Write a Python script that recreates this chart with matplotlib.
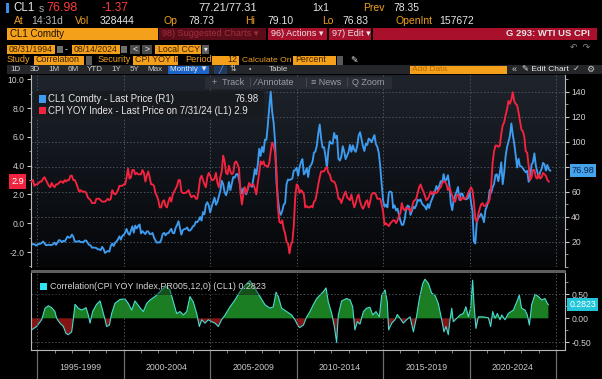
import numpy as np
import matplotlib
matplotlib.use("Agg")
import matplotlib.pyplot as plt
from matplotlib.patches import Rectangle
from matplotlib.colors import LinearSegmentedColormap
from matplotlib.ticker import MultipleLocator, FixedLocator, NullFormatter, FormatStrFormatter, FixedFormatter
import matplotlib.transforms as mtransforms

plt.rcParams['font.family'] = ['Liberation Sans', 'DejaVu Sans']

# ---------------- data ----------------
start_year, start_month = 1994, 8   # first monthly observation: Aug 1994

cpi_yoy = [
    2.9, 3.0, 2.6, 2.7, 2.7,                                        # 1994 Aug-Dec
    2.8, 2.9, 2.9, 3.1, 3.2, 3.0, 2.8, 2.6, 2.5, 2.8, 2.6, 2.5,    # 1995
    2.7, 2.7, 2.8, 2.9, 2.9, 2.8, 3.0, 2.9, 3.0, 3.0, 3.3, 3.3,    # 1996
    3.0, 3.0, 2.8, 2.5, 2.2, 2.3, 2.2, 2.2, 2.2, 2.1, 1.8, 1.7,    # 1997
    1.6, 1.4, 1.4, 1.4, 1.7, 1.7, 1.7, 1.6, 1.5, 1.5, 1.5, 1.6,    # 1998
    1.7, 1.6, 1.7, 2.3, 2.1, 2.0, 2.1, 2.3, 2.6, 2.6, 2.6, 2.7,    # 1999
    2.7, 3.2, 3.8, 3.1, 3.2, 3.7, 3.7, 3.4, 3.5, 3.4, 3.4, 3.4,    # 2000
    3.7, 3.5, 2.9, 3.3, 3.6, 3.2, 2.7, 2.7, 2.6, 2.1, 1.9, 1.6,    # 2001
    1.1, 1.1, 1.5, 1.6, 1.2, 1.1, 1.5, 1.8, 1.5, 2.0, 2.2, 2.4,    # 2002
    2.6, 3.0, 3.0, 2.2, 2.1, 2.1, 2.1, 2.2, 2.3, 2.0, 1.8, 1.9,    # 2003
    1.9, 1.7, 1.7, 2.3, 3.1, 3.3, 3.0, 2.7, 2.5, 3.2, 3.5, 3.3,    # 2004
    3.0, 3.0, 3.1, 3.5, 2.8, 2.5, 3.2, 3.6, 4.7, 4.3, 3.5, 3.4,    # 2005
    4.0, 3.6, 3.4, 3.5, 4.2, 4.3, 4.1, 3.8, 2.1, 1.3, 2.0, 2.5,    # 2006
    2.1, 2.4, 2.8, 2.6, 2.7, 2.7, 2.4, 2.0, 2.8, 3.5, 4.3, 4.1,    # 2007
    4.3, 4.0, 4.0, 3.9, 4.2, 5.0, 5.6, 5.4, 4.9, 3.7, 1.1, 0.1,    # 2008
    0.0, 0.2, -0.4, -0.7, -1.3, -1.4, -2.1, -1.5, -1.3, -0.2, 1.8, 2.7,  # 2009
    2.6, 2.1, 2.3, 2.2, 2.0, 1.1, 1.2, 1.1, 1.1, 1.2, 1.1, 1.5,    # 2010
    1.6, 2.1, 2.7, 3.2, 3.6, 3.6, 3.6, 3.8, 3.9, 3.5, 3.4, 3.0,    # 2011
    2.9, 2.9, 2.7, 2.3, 1.7, 1.7, 1.4, 1.7, 2.0, 2.2, 1.8, 1.7,    # 2012
    1.6, 2.0, 1.5, 1.1, 1.4, 1.8, 2.0, 1.5, 1.2, 1.0, 1.2, 1.5,    # 2013
    1.6, 1.1, 1.5, 2.0, 2.1, 2.1, 2.0, 1.7, 1.7, 1.7, 1.3, 0.8,    # 2014
    -0.1, 0.0, -0.1, -0.2, 0.0, 0.1, 0.2, 0.2, 0.0, 0.2, 0.5, 0.7,  # 2015
    1.4, 1.0, 0.9, 1.1, 1.0, 1.0, 0.8, 1.1, 1.5, 1.6, 1.7, 2.1,    # 2016
    2.5, 2.7, 2.4, 2.2, 1.9, 1.6, 1.7, 1.9, 2.2, 2.0, 2.2, 2.1,    # 2017
    2.1, 2.2, 2.4, 2.5, 2.8, 2.9, 2.9, 2.7, 2.3, 2.5, 2.2, 1.9,    # 2018
    1.6, 1.5, 1.9, 2.0, 1.8, 1.6, 1.8, 1.7, 1.7, 1.8, 2.1, 2.3,    # 2019
    2.5, 2.3, 1.5, 0.3, 0.1, 0.6, 1.0, 1.3, 1.4, 1.2, 1.2, 1.4,    # 2020
    1.4, 1.7, 2.6, 4.2, 5.0, 5.4, 5.4, 5.3, 5.4, 6.2, 6.8, 7.0,    # 2021
    7.5, 7.9, 8.5, 8.3, 8.6, 9.1, 8.5, 8.3, 8.2, 7.7, 7.1, 6.5,    # 2022
    6.4, 6.0, 5.0, 4.9, 4.0, 3.0, 3.2, 3.7, 3.7, 3.2, 3.1, 3.4,    # 2023
    3.1, 3.2, 3.5, 3.4, 3.3, 3.0, 2.9,                             # 2024 Jan-Jul
]

cl1_price = [
    17.6, 18.4, 18.2, 17.2, 17.8,                                              # 1994 Aug-Dec
    18.4, 18.5, 19.2, 20.4, 18.9, 17.4, 17.6, 17.8, 17.5, 17.6, 18.2, 19.5,    # 1995
    17.7, 19.5, 21.5, 21.2, 19.8, 20.9, 20.4, 22.3, 24.4, 23.4, 23.7, 25.9,    # 1996
    24.2, 20.3, 20.4, 20.2, 20.9, 19.8, 20.1, 19.6, 21.2, 21.1, 19.2, 17.6,    # 1997
    17.2, 15.4, 15.6, 15.4, 15.2, 14.0, 14.2, 13.4, 16.1, 14.4, 11.2, 12.1,    # 1998
    12.8, 12.3, 16.8, 18.7, 16.8, 19.3, 20.5, 22.1, 24.5, 21.8, 25.0, 25.6,    # 1999
    27.6, 30.4, 26.9, 25.7, 29.0, 32.5, 27.4, 33.1, 30.8, 32.7, 34.0, 26.8,    # 2000
    28.7, 27.4, 26.3, 28.5, 28.4, 26.3, 26.4, 27.2, 23.4, 21.2, 19.4, 19.8,    # 2001
    19.5, 21.7, 26.3, 27.3, 25.3, 26.9, 27.0, 28.9, 30.5, 27.2, 26.9, 31.2,    # 2002
    33.5, 36.6, 31.0, 25.8, 29.6, 30.2, 30.5, 31.6, 29.2, 29.1, 30.4, 32.5,    # 2003
    33.1, 36.2, 35.8, 37.4, 39.9, 37.1, 43.8, 42.1, 49.6, 51.8, 49.1, 43.5,    # 2004
    48.2, 51.8, 55.4, 49.7, 52.0, 56.5, 60.6, 68.9, 66.2, 59.8, 57.3, 61.0,    # 2005
    67.9, 61.4, 66.6, 71.9, 71.3, 74.0, 74.4, 70.3, 62.9, 58.7, 62.9, 61.1,    # 2006
    58.1, 61.8, 65.9, 65.7, 64.0, 70.7, 78.2, 74.0, 81.7, 94.5, 88.7, 96.0,    # 2007
    91.8, 101.8, 101.6, 113.5, 127.4, 140.0, 124.1, 115.5, 100.6, 67.8, 54.4, 44.6,  # 2008
    41.7, 44.8, 49.7, 51.1, 66.3, 69.9, 69.5, 70.0, 70.6, 77.0, 77.3, 79.4,    # 2009
    72.9, 79.7, 83.8, 86.2, 74.0, 75.6, 79.0, 71.9, 80.0, 81.4, 84.1, 91.4,    # 2010
    92.2, 97.0, 106.7, 113.9, 102.7, 95.4, 95.7, 88.8, 79.2, 93.2, 100.4, 98.8,  # 2011
    98.5, 107.1, 103.0, 104.9, 86.5, 85.0, 88.1, 96.5, 92.2, 86.2, 88.9, 91.8,  # 2012
    97.5, 92.1, 97.2, 93.5, 92.0, 96.6, 105.0, 107.7, 102.3, 96.4, 92.7, 98.4,  # 2013
    97.5, 102.6, 101.6, 99.7, 102.7, 105.4, 98.2, 96.0, 91.2, 80.5, 66.2, 53.3,  # 2014
    48.2, 49.8, 47.6, 59.6, 60.3, 59.5, 47.1, 49.2, 45.1, 46.6, 41.7, 37.0,    # 2015
    33.6, 33.8, 38.3, 45.9, 49.1, 48.3, 41.6, 44.7, 48.2, 46.9, 49.4, 53.7,    # 2016
    52.8, 54.0, 50.6, 49.3, 48.3, 46.0, 50.2, 47.2, 51.7, 54.4, 57.4, 60.4,    # 2017
    64.7, 61.6, 64.9, 68.6, 67.0, 74.2, 68.8, 69.8, 73.3, 65.3, 50.9, 45.4,    # 2018
    53.8, 57.2, 60.1, 63.9, 53.5, 58.5, 58.6, 55.1, 54.1, 54.2, 55.2, 61.1,    # 2019
    51.6, 44.8, 20.5, 18.8, 35.5, 39.3, 40.3, 42.6, 40.2, 35.8, 45.3, 48.5,    # 2020
    52.2, 61.5, 59.2, 63.6, 66.3, 73.5, 74.0, 68.5, 75.0, 83.6, 66.2, 75.2,    # 2021
    88.2, 95.7, 100.3, 104.7, 114.7, 105.8, 98.6, 89.6, 79.5, 86.5, 80.6, 80.3,  # 2022
    78.9, 77.1, 75.7, 76.8, 68.1, 70.6, 81.8, 83.6, 90.8, 81.0, 76.0, 71.7,    # 2023
    75.9, 78.3, 83.2, 81.9, 77.0, 81.5, 77.9, 76.98,                           # 2024 Jan-Aug
]

corr_dates = [
    1994.67, 1994.96, 1995.25, 1995.45, 1995.64, 1995.83, 1996.02, 1996.12, 1996.31, 1996.51,
    1996.66, 1996.79, 1996.99, 1997.08, 1997.18, 1997.37, 1997.57, 1997.82, 1997.95, 1998.05,
    1998.20, 1998.43, 1998.63, 1998.72, 1998.92, 1999.01, 1999.17, 1999.30, 1999.49, 1999.78,
    2000.07, 2000.26, 2000.46, 2000.65, 2000.94, 2001.13, 2001.33, 2001.52, 2001.81, 2002.10,
    2002.29, 2002.48, 2002.67, 2002.87, 2003.06, 2003.25, 2003.45, 2003.64, 2003.83, 2004.02,
    2004.22, 2004.37, 2004.51, 2004.70, 2004.89, 2005.08, 2005.28, 2005.47, 2005.66, 2005.86,
    2006.15, 2006.43, 2006.72, 2007.01, 2007.30, 2007.59, 2007.88, 2008.17, 2008.46, 2008.65,
    2008.81, 2008.94, 2009.13, 2009.42, 2009.71, 2009.90, 2010.10, 2010.19, 2010.39, 2010.58,
    2010.77, 2010.96, 2011.16, 2011.35, 2011.54, 2011.70, 2011.83, 2012.03, 2012.18, 2012.31,
    2012.41, 2012.60, 2012.89, 2013.09, 2013.24, 2013.37, 2013.51, 2013.66, 2013.86, 2014.05,
    2014.24, 2014.40, 2014.59, 2014.78, 2014.92, 2015.11, 2015.24, 2015.32, 2015.50, 2015.69,
    2015.82, 2015.98, 2016.17, 2016.36, 2016.56, 2016.75, 2016.90, 2017.10, 2017.29, 2017.42,
    2017.62, 2017.81, 2018.00, 2018.19, 2018.39, 2018.52, 2018.64, 2018.77, 2018.87, 2018.97,
    2019.06, 2019.26, 2019.45, 2019.64, 2019.79, 2019.93, 2020.06, 2020.18, 2020.26, 2020.37,
    2020.51, 2020.80, 2021.09, 2021.22, 2021.34, 2021.47, 2021.61, 2021.76, 2021.86, 2022.05,
    2022.24, 2022.53, 2022.73, 2022.88, 2023.01, 2023.21, 2023.34, 2023.46, 2023.59, 2023.79,
    2023.98, 2024.17, 2024.36, 2024.50, 2024.56,
]
corr_values = [
    -0.24, -0.17, -0.03, 0.21, 0.26, 0.22, 0.14, 0.00, -0.10, -0.17,
    -0.31, -0.34, -0.28, -0.03, 0.29, 0.21, 0.17, 0.22, 0.07, -0.10,
    0.14, 0.29, 0.36, 0.24, -0.03, -0.17, -0.14, 0.10, 0.31, 0.39,
    0.40, 0.31, 0.17, 0.36, 0.22, 0.14, 0.31, 0.38, 0.45, 0.55,
    0.62, 0.66, 0.59, 0.34, 0.10, 0.14, 0.07, 0.14, 0.45, 0.34,
    0.10, -0.17, -0.03, -0.10, -0.03, -0.07, -0.10, -0.17, -0.03, 0.07,
    0.24, 0.38, 0.55, 0.68, 0.78, 0.62, 0.45, 0.28, 0.21, 0.24,
    0.54, 0.45, 0.21, 0.14, 0.07, -0.03, -0.17, -0.19, -0.14, 0.03,
    0.14, 0.28, 0.41, 0.48, 0.55, 0.63, 0.34, 0.10, -0.17, -0.50,
    0.07, 0.36, 0.41, 0.38, 0.24, -0.24, -0.07, -0.12, 0.14, 0.21,
    0.23, 0.07, 0.14, 0.03, 0.48, 0.59, 0.34, -0.24, -0.10, -0.03,
    0.08, 0.00, -0.10, -0.03, 0.03, -0.28, -0.03, 0.41, 0.72, 0.81,
    0.72, 0.52, 0.48, 0.31, -0.03, -0.28, -0.17, -0.34, -0.03, 0.21,
    -0.07, 0.00, 0.07, 0.10, 0.24, 0.03, 0.21, 0.79, 0.28, -0.21,
    0.03, 0.03, 0.01, -0.17, 0.14, 0.00, 0.10, -0.03, 0.07, -0.03,
    0.10, 0.17, 0.34, 0.48, 0.21, 0.17, 0.07, -0.14, 0.28, 0.50,
    0.45, 0.38, 0.41, 0.31, 0.2823,
]

cpi_last, cl1_last, corr_last = 2.9, 76.98, 0.2823
period_starts = [1995, 2000, 2005, 2010, 2015, 2020]
period_labels = ["1995-1999", "2000-2004", "2005-2009", "2010-2014", "2015-2019", "2020-2024"]
left_ticks = [-2, 0, 2, 4, 6, 8, 10]
right_ticks = [20, 40, 60, 80, 100, 120, 140]
right_tick_labels = ["20", "40", "60", "", "100", "120", "140"]   # 80 is hidden behind the 76.98 tag
corr_ticks = [-0.5, 0.0, 0.5]

# ---------------- figure ----------------
W, H = 602, 379
fig = plt.figure(figsize=(W / 100, H / 100), dpi=100, facecolor='black')

def fx(x): return x / W
def fy(y): return 1 - y / H

def rect(x0, y0, x1, y1, color, z=1, alpha=1.0):
    fig.add_artist(Rectangle((fx(x0), fy(y1)), (x1 - x0) / W, (y1 - y0) / H,
                             transform=fig.transFigure, facecolor=color,
                             edgecolor='none', zorder=z, alpha=alpha))

def txt(x, y, s, color, size=7.0, ha='left', weight='normal', z=3):
    fig.text(fx(x), fy(y), s, color=color, fontsize=size, ha=ha, va='center',
             fontweight=weight, zorder=z)

ORANGE = '#f5a01a'
ORANGE_T = '#f0a020'
WHITE = '#e6e6e6'
RED_T = '#ff3a3a'
BOXTXT = '#3d2200'

# --- header row 1
rect(6, 3, 9, 13, '#3b8ee8')
txt(13, 8, "CL1", WHITE, 8.3)
txt(39, 8.5, "s", '#a8a8a8', 7.5)
txt(46, 8, "76.98", RED_T, 9.0)
txt(102, 8, "-1.37", RED_T, 8.5)
txt(198, 8, "77.21/77.31", WHITE, 8.0)
txt(312, 8, "1x1", WHITE, 7.5)
txt(363, 8, "Prev", ORANGE_T, 7.5)
txt(393, 8, "78.35", WHITE, 7.5)
# --- header row 2
txt(14, 21.5, "At", ORANGE_T, 7.5)
txt(31, 21.5, "14:31d", '#b8b8b8', 7.5)
txt(75, 21.5, "Vol", ORANGE_T, 7.5)
txt(100, 21.5, "328444", WHITE, 7.5)
txt(163, 21.5, "Op", ORANGE_T, 7.5)
txt(188, 21.5, "78.73", WHITE, 7.5)
txt(245, 21.5, "Hi", ORANGE_T, 7.5)
txt(267, 21.5, "79.10", WHITE, 7.5)
txt(322, 21.5, "Lo", ORANGE_T, 7.5)
txt(342, 21.5, "76.83", WHITE, 7.5)
txt(396, 21.5, "OpenInt", ORANGE_T, 7.5)
txt(439, 21.5, "157672", WHITE, 7.5)
# --- header row 3
rect(7, 28, 158, 40, ORANGE)
txt(10, 34, "CL1 Comdty", '#1a1000', 7.0)
rect(159, 28, 266, 40, '#5a0c18')
txt(162, 34, "98) Suggested Charts \u25be", '#a3303f', 6.6)
rect(268, 28, 327, 40, '#a8102c')
txt(271, 34, "96) Actions \u25be", WHITE, 6.6)
rect(329, 28, 371, 40, '#a8102c')
txt(332, 34, "97) Edit \u25be", WHITE, 6.6)
rect(373, 28, 597, 40, '#a8102c')
txt(590, 34, "G 293: WTI US CPI", WHITE, 6.8, ha='right', weight='bold')
# --- header row 4
rect(7, 45, 55, 54, ORANGE)
txt(9, 49.5, "08/31/1994", BOXTXT, 6.3)
rect(57, 46, 63, 53, '#6e6e6e')
txt(65, 49.5, "-", WHITE, 6.5)
rect(72, 45, 120, 54, ORANGE)
txt(74, 49.5, "08/14/2024", BOXTXT, 6.3)
rect(121, 46, 127, 53, '#6e6e6e')
rect(130, 45, 140, 54, '#4a4a4a')
txt(135, 49.5, "<", WHITE, 6.3, ha='center')
rect(142, 45, 152, 54, '#4a4a4a')
txt(147, 49.5, ">", WHITE, 6.3, ha='center')
rect(155, 45, 201, 54, ORANGE)
txt(158, 49.5, "Local CCY", BOXTXT, 6.3)
rect(202, 45, 209, 54, '#5a5a5a')
txt(205.5, 49.5, "\u25be", WHITE, 5.5, ha='center')
txt(580, 48, "\u21b6  \u21b7", '#8a8a8a', 6.5, ha='center')
# --- header row 5
txt(7, 60, "Study", ORANGE_T, 6.6)
rect(34, 55.5, 84, 64.5, ORANGE)
txt(36, 60, "Correlation", BOXTXT, 6.4)
rect(86, 55.5, 92, 64.5, '#5a5a5a')
txt(98, 60, "Security", ORANGE_T, 6.6)
rect(133, 55.5, 178, 64.5, ORANGE)
txt(135, 60, "CPI YOY Ir", BOXTXT, 6.4)
txt(185, 60, "Period", ORANGE_T, 6.6)
rect(212, 55.5, 239, 64.5, ORANGE)
txt(237, 60, "12", BOXTXT, 6.4, ha='right')
txt(242, 60, "Calculate On", ORANGE_T, 6.1)
rect(293, 55.5, 336, 64.5, ORANGE)
txt(295, 60, "Percent", BOXTXT, 6.4)
rect(337, 55.5, 343, 64.5, '#5a5a5a')
txt(354, 60, "\u270e", WHITE, 6.5, ha='center')
# --- header row 6 (toolbar)
rect(7, 65, 602, 74, '#24262a')
for lab, cx in zip(["1D", "3D", "1M", "6M", "YTD", "1Y", "5Y", "Max"],
                   [16, 35, 54, 73, 95, 116, 134, 155]):
    txt(cx, 69.5, lab, '#cfcfcf', 5.8, ha='center')
rect(168, 65.5, 209, 73.5, '#1d64c8')
txt(188.5, 69.5, "Monthly \u25bc", WHITE, 5.8, ha='center')
rect(214, 65.5, 227, 73.5, '#223a5c')
txt(220.5, 69.5, "\u2571", '#5fa8ff', 5.5, ha='center')
txt(233, 69.5, "\u21c5", '#cfcfcf', 5.8, ha='center')
txt(250, 69.5, "\u2022", '#cfcfcf', 5.0, ha='center')
txt(278, 69.5, "Table", '#cfcfcf', 5.8, ha='center')
rect(410, 65.5, 507, 73.5, ORANGE)
txt(412, 69.5, "Add Data", '#b86a00', 6.0)
txt(514, 69.5, "\u00ab", '#cfcfcf', 6.5, ha='center')
txt(522, 69.5, "\u270e Edit Chart", WHITE, 6.0)
txt(576, 69.5, "\u2713", '#cfcfcf', 6.0, ha='center')
txt(590, 69.5, "\u2699", '#cfcfcf', 6.5, ha='center')

# ---------------- axes ----------------
main_rect = [fx(31), fy(267), 534 / W, 192 / H]
low_rect = [fx(31), fy(350), 534 / W, 77 / H]
xlim = (1994.636, 2025.52)

bg = fig.add_axes(main_rect)
bg.axis('off')
grad_cmap = LinearSegmentedColormap.from_list('g', ['#050608', '#10141a', '#20252d'])
bg.imshow(np.linspace(1, 0, 256).reshape(-1, 1), aspect='auto', cmap=grad_cmap,
          extent=[0, 1, 0, 1], origin='upper', interpolation='bilinear')
bg.set_xlim(0, 1); bg.set_ylim(0, 1)

ax = fig.add_axes(main_rect, facecolor='none')       # right axis: CL1
axl = ax.twinx()                                      # left axis: CPI

t_cpi = start_year + (start_month + np.arange(len(cpi_yoy))) / 12.0
t_cl1 = start_year + (start_month + np.arange(len(cl1_price))) / 12.0

ax.plot(t_cl1, cl1_price, color='#3d9cf0', lw=1.35, solid_joinstyle='round')
axl.plot(t_cpi, cpi_yoy, color='#f4233f', lw=1.35, solid_joinstyle='round')

ax.set_xlim(*xlim)
ax.set_ylim(0, 153.4)
axl.set_ylim(-3.04, 10.30)

grid_kw = dict(color='#4d535c', lw=0.7, ls=(0, (1.5, 2.0)))
ax.yaxis.tick_right()
ax.yaxis.set_major_locator(FixedLocator(right_ticks))
ax.yaxis.set_major_formatter(FixedFormatter(right_tick_labels))
ax.yaxis.set_minor_locator(MultipleLocator(10))
ax.set_xticks(period_starts + [2025])
ax.grid(True, axis='both', **grid_kw)
ax.tick_params(axis='x', length=0, labelbottom=False, bottom=False)
ax.tick_params(axis='y', which='major', right=True, left=False, direction='out', length=3,
               width=0.8, color='#c8c8c8', labelcolor='#d0d0d0', labelsize=6.2, pad=1.5)
ax.tick_params(axis='y', which='minor', right=True, left=False, direction='out', length=1.8,
               width=0.6, color='#a8a8a8')

axl.yaxis.tick_left()
axl.yaxis.set_label_position('left')
axl.yaxis.set_major_locator(FixedLocator(left_ticks))
axl.yaxis.set_major_formatter(FormatStrFormatter('%.1f'))
axl.yaxis.set_minor_locator(MultipleLocator(1))
axl.tick_params(axis='y', which='major', left=True, right=False, direction='out', length=3,
                width=0.8, color='#c8c8c8', labelcolor='#d0d0d0', labelsize=6.2, pad=1.5)
axl.tick_params(axis='y', which='minor', left=True, right=False, direction='out', length=1.8,
                width=0.6, color='#a8a8a8')
axl.tick_params(axis='x', length=0, labelbottom=False, bottom=False)

for a in (ax, axl):
    for s in ('top', 'bottom'):
        a.spines[s].set_visible(False)
for s in ('left', 'right'):
    ax.spines[s].set_color('#b8b8b8'); ax.spines[s].set_linewidth(0.8)
    axl.spines[s].set_visible(False)

# value tags on the axes
tag_l = mtransforms.blended_transform_factory(fig.transFigure, axl.transData)
axl.text(fx(17.5), cpi_last, f"{cpi_last:.1f}", transform=tag_l, ha='center', va='center',
         color='white', fontsize=6.6, clip_on=False, zorder=10,
         bbox=dict(boxstyle='square,pad=0.28', fc='#f0243f', ec='none'))
tag_r = mtransforms.blended_transform_factory(fig.transFigure, ax.transData)
ax.text(fx(583), cl1_last, f"{cl1_last:.2f}", transform=tag_r, ha='center', va='center',
        color='#0c2748', fontsize=6.6, clip_on=False, zorder=10,
        bbox=dict(boxstyle='square,pad=0.22', fc='#45a3ee', ec='none'))

# main legend box
rect(34, 91, 264, 118, '#171a1f', z=2, alpha=0.92)
rect(39, 95.5, 46, 102.5, '#3d9cf0', z=3)
rect(39, 107, 46, 114, '#f4233f', z=3)
txt(48.5, 99.2, "CL1 Comdty - Last Price (R1)", WHITE, 6.9, z=4)
txt(259, 99.2, f"{cl1_last:.2f}", WHITE, 6.9, ha='right', z=4)
txt(48.5, 110.5, "CPI YOY Index - Last Price on 7/31/24 (L1) " + f"{cpi_last:.1f}", WHITE, 6.9, z=4)

# Track / Annotate / News / Zoom bar
rect(205, 76.5, 392, 88.5, '#2a2d33', z=2)
for lab, x0 in [("+  Track", 212), ("\u2215 Annotate", 255), ("\u2261 News", 311), ("Q Zoom", 352)]:
    txt(x0, 82.5, lab, '#9a9ea4', 6.5, z=4)
for xs in (250, 306, 347):
    rect(xs, 78, xs + 0.8, 87, '#44484f', z=3)

# separator between panels
rect(31, 270, 566, 273, '#5e5e5e', z=2)

# ---------------- lower panel: correlation ----------------
low = fig.add_axes(low_rect, facecolor='black')
cd = np.array(corr_dates)
cv = np.array(corr_values)
low.fill_between(cd, cv, 0, where=cv >= 0, interpolate=True, color='#1f8a26', alpha=0.92, lw=0)
low.fill_between(cd, cv, 0, where=cv <= 0, interpolate=True, color='#8c1616', alpha=0.95, lw=0)
low.plot(cd, cv, color='#45dcd2', lw=0.8)
low.set_xlim(*xlim)
low.set_ylim(-0.656, 0.938)

for v in (-0.5, 0.5):
    low.axhline(v, **grid_kw)
for p in period_starts + [2025]:
    low.axvline(p, **grid_kw)

low.yaxis.tick_right()
low.yaxis.set_major_locator(FixedLocator(corr_ticks))
low.yaxis.set_major_formatter(FormatStrFormatter('%.2f'))
low.yaxis.set_minor_locator(MultipleLocator(0.25))
low.tick_params(axis='y', which='major', right=True, left=False, direction='out', length=3,
                width=0.8, color='#c8c8c8', labelcolor='#d0d0d0', labelsize=6.2, pad=1.5)
low.tick_params(axis='y', which='minor', right=True, left=False, direction='out', length=1.8,
                width=0.6, color='#a8a8a8')

low.xaxis.set_major_locator(FixedLocator(period_starts + [2025]))
low.xaxis.set_major_formatter(NullFormatter())
low.xaxis.set_minor_locator(MultipleLocator(1))
low.tick_params(axis='x', which='major', direction='out', length=21, width=0.9, color='#6c6c6c')
low.tick_params(axis='x', which='minor', direction='out', length=2.2, width=0.6, color='#9a9a9a')
for p, lab in zip(period_starts, period_labels):
    low.text(p + 2.5, -0.225, lab, transform=mtransforms.blended_transform_factory(low.transData, low.transAxes),
             ha='center', va='center', color='#c8c8c8', fontsize=6.3, clip_on=False)

low.spines['top'].set_visible(False)
for s in ('left', 'right', 'bottom'):
    low.spines[s].set_color('#b8b8b8'); low.spines[s].set_linewidth(0.8)

tag_c = mtransforms.blended_transform_factory(fig.transFigure, low.transData)
low.text(fx(582.5), corr_last, f"{corr_last:.4f}", transform=tag_c, ha='center', va='center',
         color='white', fontsize=6.3, clip_on=False, zorder=10,
         bbox=dict(boxstyle='square,pad=0.22', fc='#22c6d8', ec='none'))

# lower legend
rect(33, 278, 272, 295, '#000000', z=2, alpha=0.35)
rect(40, 282.5, 47, 290, '#2ee6f0', z=3)
txt(50, 286.5, "Correlation(CPI YOY Index,PR005,12,0) (CL1) " + f"{corr_last:.4f}", '#d4d4d4', 6.5, z=4)

fig.savefig("out.png", dpi=100, facecolor='black')
